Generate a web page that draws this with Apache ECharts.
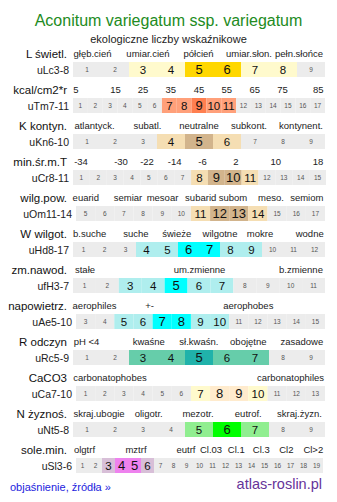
<!DOCTYPE html>
<html>
<head>
<meta charset="utf-8">
<script src="https://cdn.jsdelivr.net/npm/echarts@6/dist/echarts.min.js"></script>
<style>
html,body{margin:0;padding:0;background:#fff;}
#c{width:337px;height:502px;}
</style>
</head>
<body>
<div id="c"></div>
<script>
// ---- data ----
const titleText = 'Aconitum variegatum ssp. variegatum';
const subtitleText = 'ekologiczne liczby wskaźnikowe';
const rowNames = ['L świetl.', 'kcal/cm2*r', 'K kontyn.', 'min.śr.m.T', 'wilg.pow.', 'W wilgot.', 'zm.nawod.', 'napowietrz.', 'R odczyn', 'CaCO3', 'N żyznoś.', 'sole.min.'];
const rowCodes = ['uLc3-8', 'uTm7-11', 'uKn6-10', 'uCr8-11', 'uOm11-14', 'uHd8-17', 'ufH3-7', 'uAe5-10', 'uRc5-9', 'uCa7-10', 'uNt5-8', 'uSl3-6'];
const rowHeaders = [
  ['głęb.cień', 'umiar.cień', 'półcień', 'umiar.słon.', 'pełn.słońce'],
  ['5', '15', '25', '35', '45', '55', '65', '75', '85'],
  ['atlantyck.', 'subatl.', 'neutralne', 'subkont.', 'kontynent.'],
  ['-34', '-30', '-22', '-14', '-6', '2', '10', '18'],
  ['euarid', 'semiar', 'mesoar', 'subarid', 'subom', 'meso.', 'semiom'],
  ['b.suche', 'suche', 'świeże', 'wilgotne', 'mokre', 'wodne'],
  ['stałe', 'um.zmienne', 'b.zmienne'],
  ['aerophiles', '+-', 'aerophobes'],
  ['pH <4', 'kwaśne', 'sł.kwaśn.', 'obojętne', 'zasadowe'],
  ['carbonatophobes', 'carbonatophiles'],
  ['skraj.ubogie', 'oligotr.', 'mezotr.', 'eutrof.', 'skraj.żyzn.'],
  ['olgtrf', 'mztrf', 'eutrf', 'Cl.03', 'Cl.1', 'Cl.3', 'Cl2', 'Cl>2']
];
const cellFirst = [1, 1, 1, 1, 5, 1, 1, 3, 1, 1, 1, 1];
const cellLast  = [9, 17, 9, 15, 17, 12, 11, 15, 9, 13, 9, 19];
// level of each cell: 0 = outside, 1 = range, 2 = optimum
const levels = [
  [0,0,1,1,2,2,1,1,0],
  [0,0,0,0,0,0,1,1,2,1,1,0,0,0,0,0,0],
  [0,0,0,1,2,1,0,0,0],
  [0,0,0,0,0,0,0,1,2,2,1,0,0,0,0],
  [0,0,0,0,0,0,1,2,2,1,0,0,0],
  [0,0,0,1,1,2,2,1,1,0,0,0],
  [0,0,1,1,2,1,1,0,0,0,0],
  [0,0,1,1,2,2,1,1,0,0,0,0,0],
  [0,0,1,1,2,1,1,0,0],
  [0,0,0,0,0,0,1,2,2,1,0,0,0],
  [0,0,0,0,1,2,1,0,0],
  [0,0,1,2,2,1,0,0,0,0,0,0,0,0,0,0,0,0,0]
];
const footerLeft = 'objaśnienie, źródła »';
const footerRight = 'atlas-roslin.pl';

// ---- style / layout ----
const rowColors = [
  ['#fffacd', '#ffd700'],
  ['#ffa07a', '#ff7f50'],
  ['#f5deb3', '#d2b48c'],
  ['#f5deb3', '#d2b48c'],
  ['#f5deb3', '#d2b48c'],
  ['#afeeee', '#00ffff'],
  ['#afeeee', '#00ffff'],
  ['#afeeee', '#00ffff'],
  ['#66cdaa', '#20b2aa'],
  ['#fffacd', '#ffebcd'],
  ['#90ee90', '#00ff00'],
  ['#d8bfd8', '#ee82ee']
];
const grey = '#ececec';
const gridLeft = [73, 73, 73, 73, 76, 73, 73, 76, 73, 76, 73, 76];
const gridRight = [325, 325, 325, 326, 325, 325, 325, 325, 325, 325, 325, 323];
const headerX = [
  [92.5, 148, 198.5, 249, 299],
  [76, 115.5, 143, 170.7, 199, 226.7, 254.7, 282.5, 318.3],
  [94.5, 147.5, 199, 249, 301],
  [81, 121, 147, 174.7, 202.5, 235.8, 275.8, 318],
  [85.8, 128, 162.5, 200.7, 233, 271, 306.8],
  [89.7, 135.8, 176.7, 220, 260, 309.7],
  [85, 199.5, 301],
  [94.5, 149.5, 248.3],
  [86.5, 148.8, 198.8, 248.3, 301.8],
  [110, 290.5],
  [99, 148.7, 198, 248.3, 299.5],
  [84.5, 136, 186, 211, 236.3, 261.3, 286.3, 313.3]
];
const FF = '"Liberation Sans", Arial, sans-serif';
const rowTop = i => 62 + 36 * i;
const rowH = 15;
const labelSizes = [6.5, 11.5, 13];

const grids = [], xAxes = [], yAxes = [], series = [], graphics = [];

graphics.push({type: 'text', x: 168.5, y: 20, style: {text: titleText, font: '16px ' + FF, fill: '#228b22', textAlign: 'center', textVerticalAlign: 'middle'}});
graphics.push({type: 'text', x: 168.5, y: 38.5, style: {text: subtitleText, font: '11px ' + FF, fill: '#222', textAlign: 'center', textVerticalAlign: 'middle'}});

rowNames.forEach((name, i) => {
  const top = rowTop(i);
  grids.push({left: gridLeft[i], width: gridRight[i] - gridLeft[i], top: top, height: rowH});
  const cats = [];
  for (let v = cellFirst[i]; v <= cellLast[i]; v++) cats.push(String(v));
  xAxes.push({type: 'category', gridIndex: i, data: cats, show: false, boundaryGap: true});
  yAxes.push({type: 'value', gridIndex: i, min: 0, max: 1, show: false});
  series.push({
    type: 'bar', xAxisIndex: i, yAxisIndex: i, barCategoryGap: 0, barGap: 0,
    silent: true, animation: false,
    data: cats.map((c, k) => {
      const lv = levels[i][k];
      return {
        value: 1,
        itemStyle: {color: lv === 0 ? grey : rowColors[i][lv - 1]},
        label: {fontSize: labelSizes[lv], color: lv === 0 ? '#555' : '#111'}
      };
    }),
    label: {show: true, position: 'inside', formatter: '{b}', fontFamily: FF}
  });
  graphics.push({type: 'text', x: 67, y: top - 8.5, style: {text: name, font: '11.5px ' + FF, fill: '#111', textAlign: 'right', textVerticalAlign: 'middle'}});
  graphics.push({type: 'text', x: gridLeft[i] - 4, y: top + rowH / 2, style: {text: rowCodes[i], font: '10.5px ' + FF, fill: '#222', textAlign: 'right', textVerticalAlign: 'middle'}});
  rowHeaders[i].forEach((h, k) => {
    graphics.push({type: 'text', x: headerX[i][k], y: top - 8.5, style: {text: h, font: '9.5px ' + FF, fill: '#222', textAlign: 'center', textVerticalAlign: 'middle'}});
  });
});

graphics.push({type: 'text', x: 10, y: 487, style: {text: footerLeft, font: '11px ' + FF, fill: '#2222dd', textAlign: 'left', textVerticalAlign: 'middle'}});
graphics.push({type: 'text', x: 322, y: 483.5, style: {text: footerRight, font: '14.5px ' + FF, fill: '#663399', textAlign: 'right', textVerticalAlign: 'middle'}});

const chart = echarts.init(document.getElementById('c'), null, {renderer: 'svg', width: 337, height: 502});
chart.setOption({
  animation: false,
  backgroundColor: '#fff',
  grid: grids, xAxis: xAxes, yAxis: yAxes, series: series,
  graphic: graphics
});
</script>
</body>
</html>
